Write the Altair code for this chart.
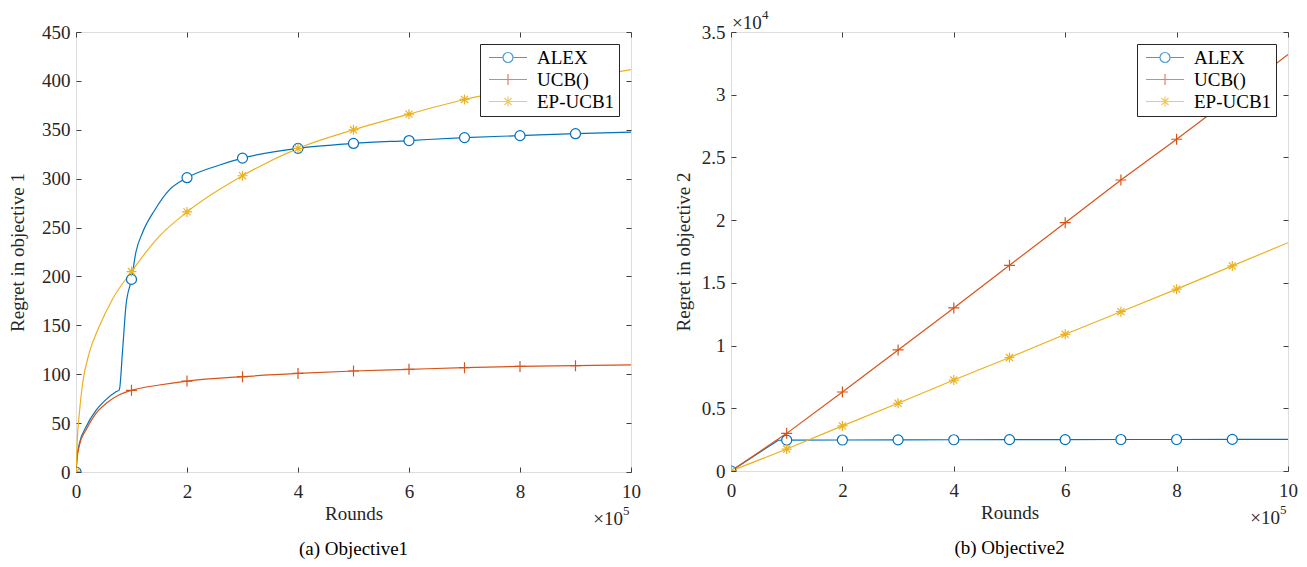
import altair as alt
import pandas as pd

SERIES = ["ALEX", "UCB()", "EP-UCB1"]
COLORS = ["#0072BD", "#D95319", "#EDB120"]
SERIF = "Liberation Serif"
INK = "#262626"
FRAME = "#404040"

# ---------------- Objective 1 (x in units of 1e5 rounds) ----------------
L_ALEX_X = [0, 0.02, 0.06, 0.18, 0.36, 0.54, 0.72, 0.78, 0.84, 0.90, 1.0, 1.08, 1.2, 1.42, 1.69, 2, 2.59, 3, 4, 5, 6, 7, 8, 9, 10]
L_ALEX_Y = [0, 16, 29, 46, 63, 74, 82, 84, 125, 170, 197, 225, 245, 268, 289, 301, 314, 321, 331, 336, 339, 342, 344, 346, 347.5]
L_UCB_X = [0, 0.02, 0.06, 0.18, 0.36, 0.54, 0.78, 1, 1.5, 2, 3, 4, 5, 6, 7, 8, 9, 10]
L_UCB_Y = [0, 14, 27, 43, 60, 70, 79, 83.5, 89, 93, 97.5, 100.8, 103.3, 105, 106.7, 108, 108.7, 109.5]
L_EP_X = [0, 0.02, 0.06, 0.12, 0.24, 0.42, 0.66, 1, 1.45, 2, 3, 4, 5, 6, 7, 8, 9, 10]
L_EP_Y = [0, 30, 60, 91, 122, 149, 177, 205, 238, 266, 303, 331, 350, 366, 381, 392, 402, 411.5]

# ---------------- Objective 2 (x in 1e5 rounds, y in 1e4) ----------------
R_ALEX_X = [0, 0.85, 1, 2, 3, 4, 5, 6, 7, 8, 9, 10]
R_ALEX_Y = [0, 0.245, 0.246, 0.247, 0.248, 0.249, 0.25, 0.25, 0.251, 0.251, 0.252, 0.252]
R_UCB_X = [0, 1, 2, 3, 4, 5, 6, 7, 8, 9, 10]
R_UCB_Y = [0, 0.30, 0.63, 0.965, 1.30, 1.64, 1.98, 2.32, 2.645, 2.98, 3.32]
R_EP_X = [0, 1, 2, 3, 4, 5, 6, 7, 8, 9, 10]
R_EP_Y = [0, 0.175, 0.36, 0.54, 0.725, 0.905, 1.09, 1.27, 1.45, 1.635, 1.82]

MARKER_X = [0, 1, 2, 3, 4, 5, 6, 7, 8, 9]
X_TICKS = [0, 2, 4, 6, 8, 10]
L_Y_TICKS = [0, 50, 100, 150, 200, 250, 300, 350, 400, 450]
R_Y_TICKS = [0, 0.5, 1, 1.5, 2, 2.5, 3, 3.5]

# plot markers (normalized paths) and legend line+marker glyphs
MARK_PATHS = [
    "M1,0A1,1,0,1,1,-1,0A1,1,0,1,1,1,0Z",
    "M-1.1,0H1.1M0,-1.1V1.1",
    "M-1,0H1M0,-1V1M-0.707,-0.707L0.707,0.707M-0.707,0.707L0.707,-0.707",
]
LEG_PATHS = [
    "M-1.125,0H2.375M4.875,0H8.375M4.875,0A1.25,1.25,0,1,1,2.375,0A1.25,1.25,0,1,1,4.875,0",
    "M-1.125,0H8.375M3.625,-1.375V1.375",
    "M-1.125,0H8.375M3.625,-1.25V1.25M2.74,-0.884L4.51,0.884M2.74,0.884L4.51,-0.884",
]

FS = 19
SW = 1.2


def make_df(xs_list, ys_list):
    rows = []
    for name, xs, ys in zip(SERIES, xs_list, ys_list):
        for x, y in zip(xs, ys):
            rows.append({"series": name, "x": x, "y": y, "marker": x in MARKER_X})
    return pd.DataFrame(rows)


def panel(df, width, height, y_ticks, y_dom, y_title, caption, y_fmt, y_exp, interp, y_tpad):
    color = alt.Color("series:N", scale=alt.Scale(domain=SERIES, range=COLORS), legend=None)
    xs = alt.Scale(domain=[0, 10], nice=False, zero=False)
    ys = alt.Scale(domain=y_dom, nice=False, zero=False)

    ax_common = dict(domain=False, grid=False, tickSize=5, offset=-5, tickColor=FRAME, tickWidth=1,
                     labelFont=SERIF, labelFontSize=FS, labelColor=INK, labelFlush=False,
                     titleFont=SERIF, titleFontSize=FS, titleFontWeight="normal", titleColor=INK)

    lines = alt.Chart(df).mark_line(strokeWidth=SW, interpolate=interp, clip=True).encode(
        x=alt.X("x:Q", scale=xs, axis=alt.Axis(orient="bottom", values=X_TICKS, title="Rounds",
                                               labelPadding=10, titlePadding=3, **ax_common)),
        y=alt.Y("y:Q", scale=ys, axis=alt.Axis(orient="left", values=y_ticks, title=y_title, format=y_fmt,
                                               labelPadding=6, titlePadding=y_tpad, **ax_common)),
        color=color,
    )

    opp_axes = alt.Chart(df).mark_line(opacity=0).encode(
        x=alt.X("x:Q", scale=xs, axis=alt.Axis(orient="top", values=X_TICKS, labels=False, title=None, **ax_common)),
        y=alt.Y("y:Q", scale=ys, axis=alt.Axis(orient="right", values=y_ticks, labels=False, title=None, **ax_common)),
        color=color,
    )

    points = alt.Chart(df).transform_filter("datum.marker").mark_point(
        filled=False, fill="white", fillOpacity=1, strokeWidth=SW, size=100, opacity=1, clip=True
    ).encode(
        x=alt.X("x:Q", scale=xs, axis=None),
        y=alt.Y("y:Q", scale=ys, axis=None),
        color=color,
        shape=alt.Shape("series:N", scale=alt.Scale(domain=SERIES, range=MARK_PATHS), legend=None),
    )

    leg_df = pd.DataFrame({"series": SERIES, "x": [-5, -5, -5], "y": [0, 0, 0]})
    leg_common = dict(title=None, orient="top-right", offset=12, fillColor="white", strokeColor=INK,
                      padding=4, rowPadding=2, symbolSize=64, symbolStrokeWidth=SW, labelOffset=34,
                      labelFont=SERIF, labelFontSize=FS, labelColor="black", cornerRadius=0)
    legend_layer = alt.Chart(leg_df).mark_point(filled=False, strokeWidth=SW, clip=True).encode(
        x=alt.X("x:Q", scale=xs, axis=None),
        y=alt.Y("y:Q", scale=ys, axis=None),
        stroke=alt.Stroke("series:N", scale=alt.Scale(domain=SERIES, range=COLORS), legend=alt.Legend(**leg_common)),
        shape=alt.Shape("series:N", scale=alt.Scale(domain=SERIES, range=LEG_PATHS), legend=alt.Legend(**leg_common)),
    )

    base_df = pd.DataFrame({"t": ["×10"]})
    exp5_df = pd.DataFrame({"t": ["5"]})
    x_base = alt.Chart(base_df).mark_text(font=SERIF, fontSize=FS, color=INK, align="right", baseline="middle").encode(
        x=alt.value(width - 8), y=alt.value(height + 47), text="t:N")
    x_sup = alt.Chart(exp5_df).mark_text(font=SERIF, fontSize=13, color=INK, align="left", baseline="middle").encode(
        x=alt.value(width - 8), y=alt.value(height + 39), text="t:N")
    layers = [lines, opp_axes, points, legend_layer, x_base, x_sup]
    if y_exp:
        yexp_df = pd.DataFrame({"t": [y_exp]})
        layers.append(alt.Chart(base_df).mark_text(font=SERIF, fontSize=FS, color=INK, align="left", baseline="middle").encode(
            x=alt.value(1), y=alt.value(-9), text="t:N"))
        layers.append(alt.Chart(yexp_df).mark_text(font=SERIF, fontSize=13, color=INK, align="left", baseline="middle").encode(
            x=alt.value(31), y=alt.value(-17), text="t:N"))

    return alt.layer(*layers).resolve_scale(shape="independent", stroke="independent").resolve_axis(
        x="independent", y="independent"
    ).properties(
        width=width, height=height,
        title=alt.TitleParams(caption, orient="bottom", frame="group", anchor="middle", font=SERIF,
                              fontSize=FS, fontWeight="normal", color="black", offset=11),
    )


left = panel(make_df([L_ALEX_X, L_UCB_X, L_EP_X], [L_ALEX_Y, L_UCB_Y, L_EP_Y]), 555, 440,
             L_Y_TICKS, [0, 450], "Regret in objective 1", "(a) Objective1", "d", None, "monotone", 14)
right = panel(make_df([R_ALEX_X, R_UCB_X, R_EP_X], [R_ALEX_Y, R_UCB_Y, R_EP_Y]), 557, 439,
              R_Y_TICKS, [0, 3.5], "Regret in objective 2", "(b) Objective2", "~g", "4", "linear", 8)

chart = alt.hconcat(left, right, spacing=32).properties(
    padding={"left": 0, "top": 0, "right": 0, "bottom": 0}
).configure_view(stroke=FRAME, strokeWidth=1).configure(background="white")

chart.save("out.html", embed_options={"renderer": "svg", "actions": False})
